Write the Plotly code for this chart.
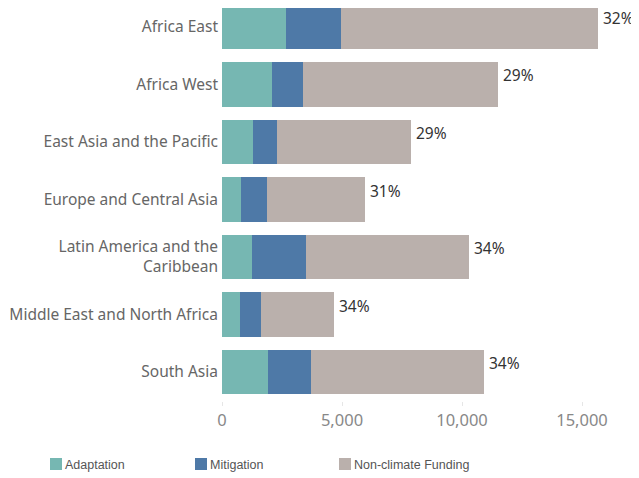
import plotly.graph_objects as go

regions = ["Africa East", "Africa West", "East Asia and the Pacific", "Europe and Central Asia",
           "Latin America and the<br>Caribbean", "Middle East and North Africa", "South Asia"]
adaptation = [2670, 2070, 1280, 780, 1240, 740, 1905]
mitigation = [2280, 1295, 1000, 1085, 2250, 875, 1795]
non_climate = [10720, 8120, 5590, 4085, 6800, 3045, 7215]
pct_labels = ["32%", "29%", "29%", "31%", "34%", "34%", "34%"]
tick_vals = [0, 5000, 10000, 15000]
tick_text = ["0", "5,000", "10,000", "15,000"]
legend_names = ["Adaptation", "Mitigation", "Non-climate Funding"]
colors = ["#76b7b2", "#4e79a7", "#bab0ac"]

FONT = "Noto Sans"
LEGFONT = "Liberation Sans"
OFF = 8  # page body margin
W, H = 639 - OFF, 478 - OFF
ML, MR, MT, MB = 222 - OFF, 9, 0, 77
PW, PH = W - ML - MR, H - MT - MB

fig = go.Figure()
for name, vals, col in zip(legend_names, [adaptation, mitigation, non_climate], colors):
    fig.add_trace(go.Bar(y=regions, x=vals, name=name, orientation="h", showlegend=False,
                         marker=dict(color=col, line=dict(width=0)), width=0.77))

totals = [a + m + n for a, m, n in zip(adaptation, mitigation, non_climate)]
for r, t, lab in zip(regions, totals, pct_labels):
    fig.add_annotation(x=t, y=r, text=lab, showarrow=False, xanchor="left", yanchor="middle",
                       xshift=3, yshift=9, font=dict(family=FONT, size=15.5, color="#333333"))

# manual legend (page pixel layout converted to paper coordinates)
leg_x = [50, 195, 339]
for px, name, col in zip(leg_x, legend_names, colors):
    fx = px - OFF
    fig.add_shape(type="rect", xref="paper", yref="paper",
                  x0=(fx - ML) / PW, x1=(fx + 12 - ML) / PW,
                  y0=(PH - (470 - OFF)) / PH, y1=(PH - (458 - OFF)) / PH,
                  fillcolor=col, line=dict(width=0))
    fig.add_annotation(xref="paper", yref="paper", x=(fx + 13 - ML) / PW, y=(PH - (465 - OFF)) / PH,
                       text=name, showarrow=False, xanchor="left", yanchor="middle",
                       font=dict(family=LEGFONT, size=12.5, color="#555555"))

fig.update_layout(
    barmode="stack", width=W, height=H,
    margin=dict(l=ML, r=MR, t=MT, b=MB),
    paper_bgcolor="white", plot_bgcolor="white",
    font=dict(family=FONT, size=14, color="#555555"),
    xaxis=dict(range=[0, 17000], tickvals=tick_vals, ticktext=tick_text, showgrid=False,
               zeroline=False, showline=False, ticks="outside", ticklen=4, tickcolor="#e6e6e6",
               automargin=False,
               tickfont=dict(family=FONT, size=16.5, color="#888888")),
    yaxis=dict(range=[6.504, -0.330], showgrid=False, zeroline=False, showline=False, ticks="",
               automargin=False, ticklabelstandoff=3,
               tickfont=dict(family=FONT, size=15.5, color="#666666")),
    showlegend=False,
)
fig.write_html("out.html")
